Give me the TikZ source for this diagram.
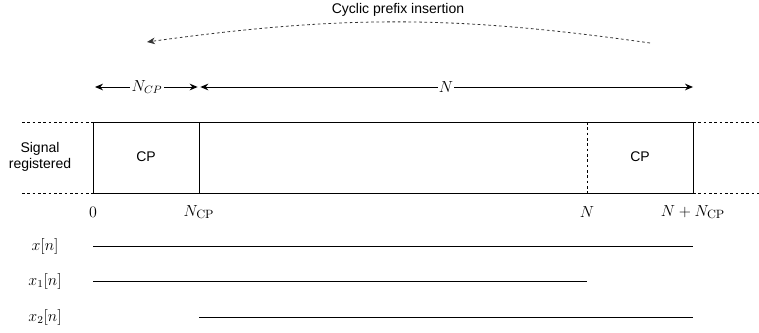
\documentclass[tikz,border=0pt]{standalone}
\usepackage[no-math]{fontspec}
\setmainfont{Liberation Sans}
\usetikzlibrary{arrows.meta, positioning, calc}

\begin{document}
\begin{tikzpicture}[x=0.75pt, y=-0.75pt, >={Stealth[length=6pt, width=5pt]}, line width=0.75pt,
    txtlabel/.style={font=\fontsize{10.5}{12.5}\selectfont, align=center},
    ticklabel/.style={font=\fontsize{12.5}{14}\selectfont},
    rowlabel/.style={font=\fontsize{11.5}{13}\selectfont},
    spanlabel/.style={font=\fontsize{12}{14}\selectfont, fill=white, inner sep=1pt},
    guide/.style={dashed, dash pattern=on 2pt off 2pt, line width=0.6pt}]
    % --- Frame of the picture ---
    \useasboundingbox (0,0) rectangle (759,332);

    % --- Cyclic prefix insertion (curved arrow) ---
    \node[font=\fontsize{10.5}{12}\selectfont] (title) at (398,10) {Cyclic prefix insertion};
    \coordinate (copyfrom) at (650,43);
    \coordinate (copyto) at (147,42);
    \draw[->, guide, black!80] (copyfrom) to[bend right=8] (copyto);

    % --- Lengths ---
    \coordinate (span0) at (95,87);
    \coordinate (span1) at (199,87);
    \coordinate (span2) at (693,87);
    \draw[<->, shorten >=1pt] (span0) -- node[spanlabel] (ncp) {$N_{CP}$} (span1);
    \draw[<->, shorten <=1pt] (span1) -- node[spanlabel] (nlen) {$N$} (span2);

    % --- Signal block ---
    \coordinate (topleft) at (93,122);
    \coordinate (botright) at (693,193);
    \draw (topleft) rectangle (botright);
    \coordinate (cptop) at (199,122);
    \coordinate (cpbot) at (199,193);
    \draw (cptop) -- (cpbot);
    \coordinate (ntop) at (587,122);
    \coordinate (nbot) at (587,193);
    \draw[guide] (ntop) -- (nbot);

    % dashed continuation of the signal
    \coordinate (lefttop) at (22,122);
    \coordinate (leftbot) at (22,193);
    \coordinate (righttop) at (759,122);
    \coordinate (rightbot) at (759,193);
    \draw[guide] (lefttop) -- (topleft);
    \draw[guide] (leftbot) -- (93,193);
    \draw[guide] (693,122) -- (righttop);
    \draw[guide] (botright) -- (rightbot);

    \node[txtlabel] (signal) at (40,157) {Signal\\registered};
    \node[txtlabel] (cpfirst) at (146,157) {CP};
    \node[txtlabel] (cplast) at (640,157) {CP};

    % --- Sample indices ---
    \node[ticklabel] (tick0) at (93,212) {$0$};
    \node[ticklabel] (tick1) at (199,212) {$N_{\mathrm{CP}}$};
    \node[ticklabel] (tick2) at (587,212) {$N$};
    \node[ticklabel] (tick3) at (693,212) {$N+N_{\mathrm{CP}}$};

    % --- Signals ---
    \node[rowlabel] (xn) at (45,246) {$x[n]$};
    \node[rowlabel] (xone) at (45,281) {$x_1[n]$};
    \node[rowlabel] (xtwo) at (45,317) {$x_2[n]$};
    \coordinate (xstart) at (93,246);
    \coordinate (xend) at (693,246);
    \coordinate (xonestart) at (93,281);
    \coordinate (xoneend) at (587,281);
    \coordinate (xtwostart) at (199,317);
    \coordinate (xtwoend) at (693,317);
    \draw (xstart) -- (xend);
    \draw (xonestart) -- (xoneend);
    \draw (xtwostart) -- (xtwoend);
\end{tikzpicture}
\end{document}
